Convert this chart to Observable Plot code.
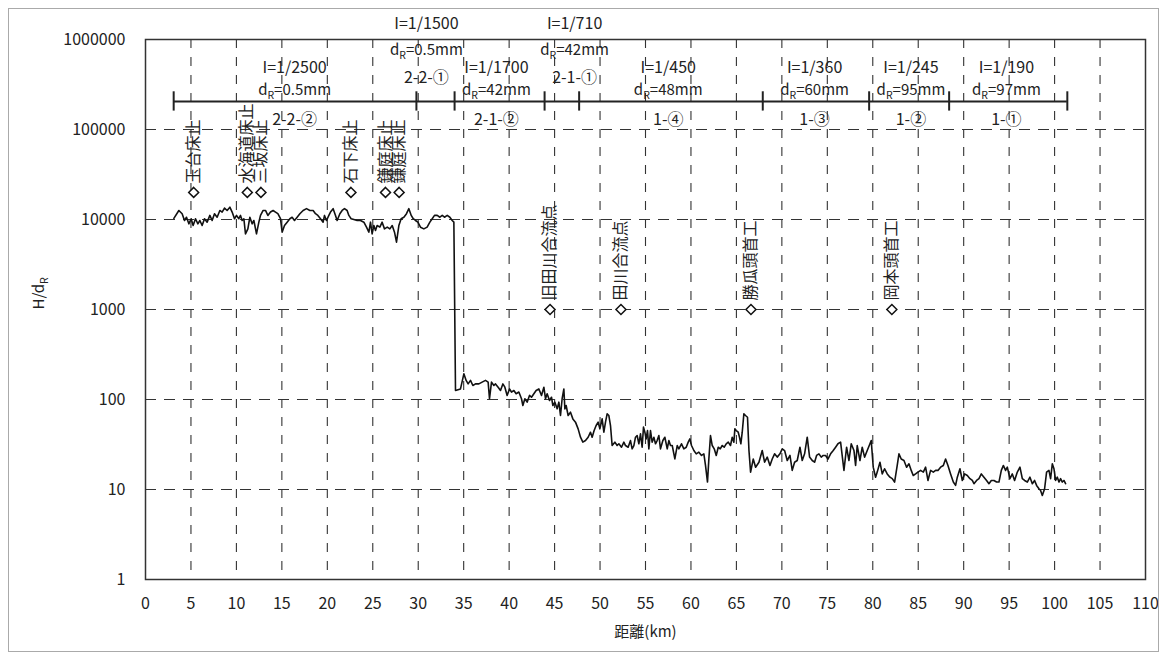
<!DOCTYPE html>
<html><head><meta charset="utf-8">
<script src="https://cdn.jsdelivr.net/npm/d3@7"></script>
<script src="https://cdn.jsdelivr.net/npm/@observablehq/plot@0.6"></script>
<style>
body{margin:0;background:#fff;}
#wrap{position:relative;width:1166px;height:660px;}
#border{position:absolute;left:8px;top:8px;width:1151px;height:644px;border:1px solid #aaa;box-sizing:border-box;pointer-events:none;}
#chart{position:absolute;left:0;top:0;}
</style></head><body><div id="wrap"><div id="chart"></div><div id="border"></div></div>
<script>
// ---- axis ticks ----
const xTicks = [0,5,10,15,20,25,30,35,40,45,50,55,60,65,70,75,80,85,90,95,100,105,110];
const yTicks = [1,10,100,1000,10000,100000,1000000];

// ---- H/dR profile, [distance km, H/dR] ----
const reachLower = [
[3.12,10300],[3.67,12600],[4.03,11600],[4.29,9750],[4.51,10600],[4.77,8950],[5.02,10200],[5.24,8570],[5.50,10200],[5.76,8950],
[5.98,9750],[6.23,8570],[6.49,10200],[6.78,9340],[7.08,11100],[7.33,9750],[7.59,11600],[7.88,10600],[8.18,12600],[8.43,12100],
[8.69,13400],[8.98,12600],[9.28,13700],[9.53,12100],[9.79,10200],[10.01,11100],[10.27,10200],[10.45,11100],[10.63,9750],[10.82,10200],
[11.00,6930],[11.26,7870],[11.48,10600],[11.73,8950],[11.92,9750],[12.21,6930],[12.47,9340],[12.65,11100],[12.94,12600],[13.20,12600],
[13.46,11100],[13.75,12100],[14.04,12600],[14.30,12100],[14.56,11600],[14.85,10200],[15.03,7230],[15.29,8570],[15.58,9340],[15.88,10200],
[16.13,10600],[16.39,9750],[16.68,10600],[16.98,11600],[17.34,12600],[17.71,13200],[18.08,12600],[18.44,12600],[18.70,11600],[18.96,11100],
[19.25,10200],[19.54,9340],[19.69,11100],[19.91,9750],[20.17,11100],[20.35,12100],[20.64,13200],[20.90,11100],[21.08,9750],[21.38,11600],
[21.63,12600],[21.89,13200],[22.18,12600],[22.37,11100],[22.62,10200],[22.92,10000],[23.28,9750],[23.65,9750],[24.02,9340],[24.31,8220],
[24.57,7230],[24.75,9340],[24.93,6930],[25.12,8570],[25.30,7550],[25.48,8570],[25.78,8220],[26.03,9340],[26.29,7870],[26.59,8220],
[26.88,7870],[27.14,8570],[27.39,7230],[27.61,5600],[27.87,8570],[28.12,10200],[28.42,10600],[28.71,11600],[28.97,13200],[29.23,11100],
[29.45,10200],[29.70,9750],[29.96,9340],[30.25,8220],[30.62,7870],[30.98,8220],[31.28,9340],[31.54,10200],[31.79,11100],[32.09,11100],
[32.38,10600],[32.64,11100],[32.89,10600],[33.19,11100],[33.48,10600],[33.74,9750],[33.92,9340]
];
const reachMiddle = [
[34.10,126],[34.65,131],[35.02,193],[35.27,163],[35.49,149],[35.75,163],[36.01,143],[36.30,149],[36.67,149],[37.03,156],
[37.40,163],[37.69,156],[37.84,102],[38.06,156],[38.32,143],[38.50,149],[38.79,137],[39.05,126],[39.31,149],[39.53,137],
[39.78,111],[40.04,131],[40.26,121],[40.52,126],[40.77,116],[41.07,121],[41.36,102],[41.51,85.7],[41.73,102],[41.98,93.4],
[42.24,111],[42.46,106],[42.72,116],[42.97,126],[43.27,131],[43.56,111],[43.82,137],[44.00,102],[44.18,116],[44.44,97.5],
[44.66,106],[44.81,85.7],[45.03,93.4],[45.28,78.7],[45.47,93.4],[45.65,66.4],[45.83,102],[46.02,131],[46.13,78.7],[46.27,85.7],
[46.49,66.4],[46.75,72.3],[47.01,60.9],[47.30,56.0],[47.59,47.2],[47.85,38.1],[48.11,33.6],[48.40,35.0],[48.69,38.1],[48.95,43.3],
[49.13,38.1],[49.35,45.2],[49.57,51.4],[49.79,56.0],[49.98,47.2],[50.23,60.9],[50.42,43.3],[50.60,56.0],[50.78,69.3],[50.97,66.4],
[51.15,51.4],[51.33,30.8],[51.63,33.6],[51.88,30.8],[52.07,32.2],[52.36,29.5],[52.62,33.6],[52.80,30.8],[53.09,29.5],[53.35,35.0],
[53.53,28.3],[53.72,30.8],[53.90,38.1],[54.08,39.8],[54.27,32.2],[54.45,41.5],[54.63,29.5],[54.78,49.3],[54.93,43.3],[55.07,36.5],
[55.22,45.2],[55.37,28.3],[55.55,45.2],[55.73,33.6],[55.92,38.1],[56.10,32.2],[56.28,35.0],[56.47,39.8],[56.65,28.3],[56.91,35.0],
[57.13,38.1],[57.39,28.3],[57.57,35.0],[57.75,30.8],[57.94,30.8],[58.23,21.9],[58.49,30.8],[58.67,28.3],[58.96,32.2],[59.22,28.3],
[59.48,29.5],[59.70,33.6],[59.88,36.5],[60.06,30.8],[60.32,27.1],[60.58,24.9],[60.87,26.0],[61.16,23.9],[61.42,24.9],[61.60,18.5],
[61.82,12.1],[61.97,21.9],[62.15,39.8],[62.34,30.8],[62.56,28.3],[62.78,23.9],[63.00,29.5],[63.22,28.3],[63.44,30.8],[63.66,29.5],
[63.88,32.2],[64.10,33.6],[64.35,30.8],[64.54,38.1],[64.72,33.6],[64.83,47.2],[64.98,45.2],[65.20,43.3],[65.34,38.1],[65.49,32.2],
[65.64,43.3],[65.82,69.3],[66.00,66.4],[66.22,63.5]
];
const reachUpper = [
[66.38,27.1],[66.56,15.6],[66.85,21.8],[67.11,17.7],[67.48,20.1],[67.84,27.1],[68.10,20.1],[68.39,22.9],[68.69,18.5],[68.94,21.8],
[69.20,24.9],[69.49,22.9],[69.79,24.9],[70.04,28.3],[70.30,27.1],[70.59,21.0],[70.89,23.9],[71.14,16.3],[71.40,20.1],[71.69,21.0],
[71.99,29.5],[72.24,21.0],[72.50,24.9],[72.79,38.1],[73.05,22.9],[73.34,21.0],[73.60,20.1],[73.82,23.9],[74.08,24.9],[74.33,22.9],
[74.55,23.9],[74.81,23.9],[75.07,21.8],[75.36,24.9],[75.65,27.1],[75.91,29.5],[76.17,32.2],[76.46,33.6],[76.83,16.3],[77.12,29.5],
[77.38,21.0],[77.63,32.2],[77.93,27.1],[78.11,18.5],[78.29,30.8],[78.59,21.0],[78.84,29.5],[79.10,22.9],[79.39,27.1],[79.69,32.2],
[79.83,35.0],[80.05,17.7],[80.31,13.7],[80.49,15.6],[80.79,20.1],[81.04,14.9],[81.30,17.0],[81.59,14.9],[81.89,13.7],[82.14,13.2],
[82.40,12.1],[82.69,18.5],[82.88,24.9],[83.13,21.8],[83.43,21.0],[83.72,17.7],[83.98,19.3],[84.23,16.3],[84.45,14.3],[84.71,14.9],
[84.97,15.6],[85.26,16.3],[85.56,15.6],[85.81,17.7],[86.07,12.6],[86.36,16.3],[86.66,15.6],[86.91,16.3],[87.17,16.3],[87.46,17.7],
[87.76,18.5],[88.01,21.8],[88.27,18.5],[88.56,14.9],[88.86,12.1],[89.11,11.1],[89.30,13.7],[89.59,17.0],[89.85,12.6],[90.10,14.9],
[90.40,14.3],[90.69,13.2],[90.95,12.6],[91.13,11.6],[91.42,12.6],[91.68,13.2],[91.94,14.9],[92.23,13.7],[92.52,12.6],[92.78,11.6],
[93.04,12.6],[93.33,12.6],[93.62,12.1],[93.88,12.1],[94.14,16.3],[94.36,18.5],[94.61,16.3],[94.80,17.7],[95.09,13.2],[95.35,14.9],
[95.60,12.6],[95.90,15.6],[96.19,17.7],[96.45,13.2],[96.70,12.6],[97.00,12.1],[97.29,13.7],[97.55,11.6],[97.80,12.6],[98.02,11.1],
[98.28,10.2],[98.46,9.75],[98.65,8.6],[98.90,10.2],[99.12,15.6],[99.38,16.3],[99.56,13.2],[99.75,19.3],[99.93,17.0],[100.11,12.6],
[100.30,13.7],[100.48,12.1],[100.66,13.2],[100.85,12.1],[101.03,12.6],[101.21,11.6]
];

// ---- river segments ----
const segCode  = ["2-2-②","2-2-①","2-1-②","2-1-①","1-④","1-③","1-②","1-①"];
const segSlope = ["I=1/2500","I=1/1500","I=1/1700","I=1/710","I=1/450","I=1/360","I=1/245","I=1/190"];
const segDR    = ["dR=0.5mm","dR=0.5mm","dR=42mm","dR=42mm","dR=48mm","dR=60mm","dR=95mm","dR=97mm"];
const segLabelKm = [16.4,30.9,38.6,47.2,57.5,73.6,84.2,94.7];
const segRaised  = [false,true,false,true,false,false,false,false];
const segBoundKm = [3.1,29.8,34.0,43.9,47.7,67.9,79.6,88.4,101.4];

// ---- structures / confluences ----
const featName  = ["玉台床止","水海道床止","三坂床止","石下床止","鎌庭床止","鎌庭床止","旧田川合流点","田川合流点","勝瓜頭首工","岡本頭首工"];
const featKm    = [5.3,11.2,12.7,22.6,26.4,27.9,44.5,52.3,66.6,82.1];
const featLevel = [20000,20000,20000,20000,20000,20000,1000,1000,1000,1000];

// ---- build tables ----
const profile = [...reachLower, ...reachMiddle, ...reachUpper].map(([km, v]) => ({km, v}));
const segments = segCode.map((c, i) => ({code: c, slope: segSlope[i], dr: segDR[i], km: segLabelKm[i], raised: segRaised[i]}));
const features = featName.map((n, i) => ({name: n, km: featKm[i], level: featLevel[i]}));

const FONT = "'Noto Sans CJK JP', 'Noto Sans', sans-serif";
const INK = "#222";
const barLevel = 2.05e5;
const rows = {mainSlope: 4.8e5, mainDR: 2.75e5, code: 1.28e5, upSlope: 1.5e6, upDR: 7.6e5, upCode: 3.75e5};

const chart = Plot.plot({
  width: 1166, height: 660,
  marginTop: 39, marginBottom: 81, marginLeft: 145, marginRight: 21,
  style: {fontFamily: FONT, fontSize: "16px", color: INK, background: "transparent", overflow: "visible"},
  x: {domain: [0, 110], ticks: xTicks, tickSize: 0, tickPadding: 18, label: null},
  y: {type: "log", domain: [1, 1e6], ticks: yTicks, tickFormat: d => String(d), tickSize: 0, tickPadding: 20, label: null},
  marks: [
    Plot.ruleX(xTicks.filter(d => d > 0 && d < 110), {stroke: "#333", strokeWidth: 1.1, strokeDasharray: "9,9"}),
    Plot.ruleY(yTicks.filter(d => d > 1 && d < 1e6), {stroke: "#333", strokeWidth: 1.1, strokeDasharray: "11,8"}),
    Plot.frame({stroke: "#333", strokeWidth: 1.5}),
    // segment bar
    Plot.ruleY([barLevel], {x1: segBoundKm[0], x2: segBoundKm[segBoundKm.length - 1], stroke: INK, strokeWidth: 2}),
    Plot.ruleX(segBoundKm, {y1: barLevel / 1.28, y2: barLevel * 1.28, stroke: INK, strokeWidth: 2}),
    Plot.text(segments, {x: "km", y: d => d.raised ? rows.upSlope : rows.mainSlope, text: "slope", fill: INK, fontSize: 16}),
    Plot.text(segments, {x: "km", y: d => d.raised ? rows.upDR : rows.mainDR, text: "dr", fill: INK, fontSize: 15}),
    Plot.text(segments, {x: "km", y: d => d.raised ? rows.upCode : rows.code, text: "code", fill: INK, fontSize: 16}),
    // profile
    Plot.line(profile, {x: "km", y: "v", stroke: "#111", strokeWidth: 1.6}),
    // features
    Plot.dot(features, {x: "km", y: "level", symbol: "diamond2", r: 4.5, stroke: "#111", fill: "white", strokeWidth: 1.5}),
    Plot.text(features, {x: "km", y: "level", text: "name", rotate: -90, textAnchor: "start", dy: -9, fill: INK, fontSize: 16}),
    // axis titles
    Plot.text(["H/dR"], {frameAnchor: "left", text: d => d, rotate: -90, dx: -106, fill: INK, fontSize: 15}),
    Plot.text(["距離(km)"], {frameAnchor: "bottom", text: d => d, dy: 57, fill: INK, fontSize: 15})
  ]
});

// subscript R in "dR"
const NS = "http://www.w3.org/2000/svg";
chart.querySelectorAll("text").forEach(t => {
  if (t.children.length === 0 && t.textContent.includes("dR")) {
    const s = t.textContent, i = s.indexOf("dR");
    t.textContent = "";
    t.appendChild(document.createTextNode(s.slice(0, i + 1)));
    const sub = document.createElementNS(NS, "tspan");
    sub.setAttribute("font-size", "0.7em"); sub.setAttribute("dy", "4"); sub.textContent = "R";
    t.appendChild(sub);
    const rest = document.createElementNS(NS, "tspan");
    rest.setAttribute("dy", "-4"); rest.textContent = s.slice(i + 2);
    t.appendChild(rest);
  }
});
document.getElementById("chart").appendChild(chart);
</script></body></html>
